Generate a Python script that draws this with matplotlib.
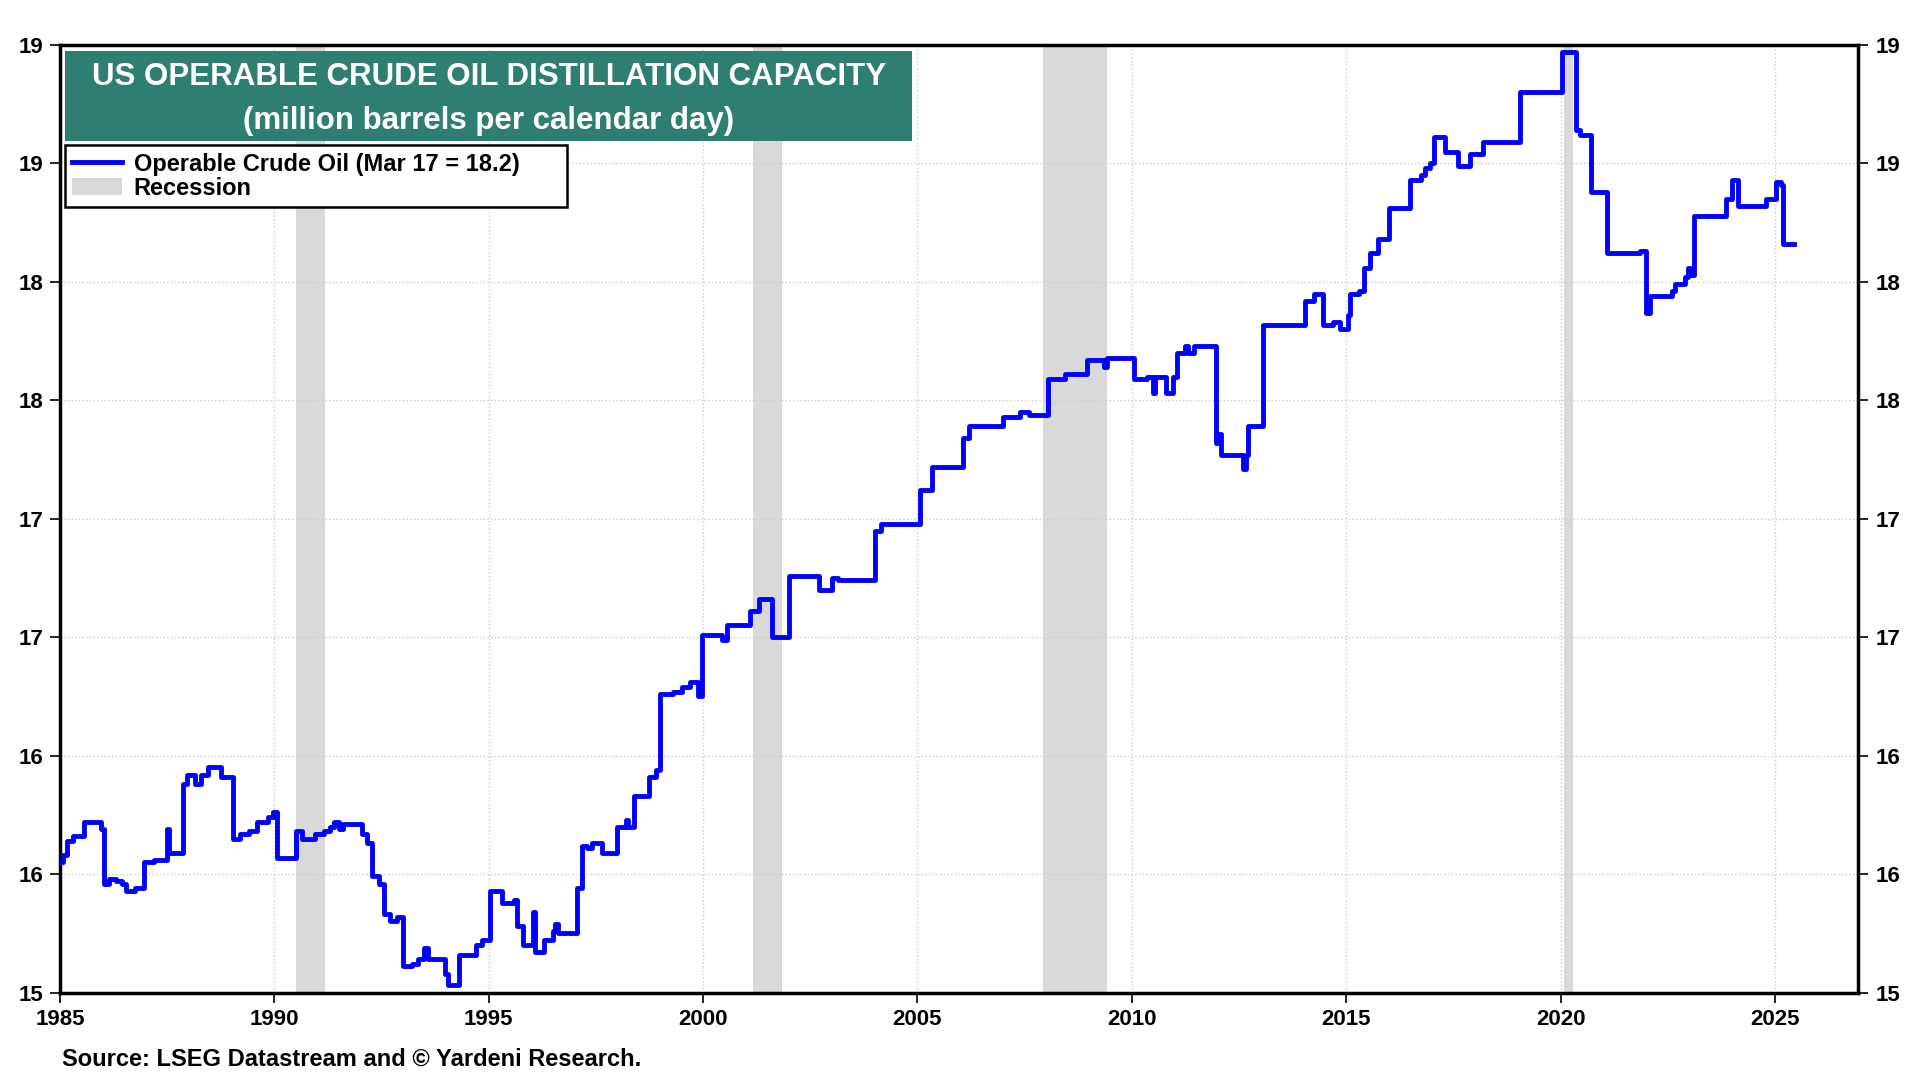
import matplotlib.pyplot as plt
from matplotlib.patches import Rectangle, Patch
from matplotlib.lines import Line2D

plt.rcParams['font.family'] = ['Liberation Sans', 'DejaVu Sans']
plt.rcParams['font.weight'] = 'bold'

# operable crude oil distillation capacity, step series (start of each level)
years = [1985.00, 1985.08, 1985.17, 1985.30, 1985.55, 1985.95, 1986.03, 1986.15, 1986.30, 1986.45,
         1986.55, 1986.75, 1986.95, 1987.20, 1987.50, 1987.55, 1987.88, 1987.97, 1988.15, 1988.30,
         1988.45, 1988.75, 1989.03, 1989.20, 1989.40, 1989.60, 1989.85, 1989.97, 1990.05, 1990.50,
         1990.65, 1990.95, 1991.15, 1991.30, 1991.40, 1991.50, 1991.60, 1992.05, 1992.15, 1992.27,
         1992.45, 1992.55, 1992.70, 1992.85, 1993.00, 1993.20, 1993.35, 1993.50, 1993.58, 1993.97,
         1994.05, 1994.30, 1994.70, 1994.85, 1995.02, 1995.30, 1995.60, 1995.65, 1995.80, 1996.03,
         1996.08, 1996.30, 1996.50, 1996.55, 1996.62, 1997.05, 1997.18, 1997.30, 1997.40, 1997.65,
         1998.00, 1998.20, 1998.25, 1998.40, 1998.75, 1998.90, 1999.00, 1999.30, 1999.50, 1999.70,
         1999.88, 1999.97, 2000.45, 2000.55, 2001.10, 2001.30, 2001.60, 2002.00, 2002.70, 2003.00,
         2003.15, 2004.00, 2004.15, 2005.05, 2005.35, 2006.07, 2006.20, 2007.00, 2007.40, 2007.60,
         2008.05, 2008.45, 2008.95, 2009.35, 2009.42, 2010.05, 2010.35, 2010.50, 2010.55, 2010.80,
         2010.97, 2011.05, 2011.25, 2011.30, 2011.45, 2011.97, 2012.02, 2012.07, 2012.60, 2012.66,
         2012.70, 2013.05, 2014.05, 2014.25, 2014.45, 2014.70, 2014.85, 2015.05, 2015.10, 2015.30,
         2015.42, 2015.55, 2015.75, 2016.00, 2016.48, 2016.75, 2016.85, 2016.95, 2017.05, 2017.30,
         2017.62, 2017.90, 2018.20, 2019.05, 2020.03, 2020.37, 2020.45, 2020.72, 2021.08, 2021.85,
         2022.00, 2022.08, 2022.60, 2022.67, 2022.90, 2022.97, 2023.03, 2023.12, 2023.85, 2024.00,
         2024.13, 2024.80, 2025.03, 2025.15, 2025.20, 2025.45]
capacity = [15.55, 15.58, 15.64, 15.66, 15.72, 15.69, 15.46, 15.48, 15.47, 15.46,
            15.43, 15.44, 15.55, 15.56, 15.69, 15.59, 15.88, 15.92, 15.88, 15.92,
            15.95, 15.91, 15.65, 15.67, 15.68, 15.72, 15.74, 15.76, 15.57, 15.68,
            15.65, 15.67, 15.68, 15.70, 15.72, 15.69, 15.71, 15.67, 15.63, 15.49,
            15.46, 15.33, 15.30, 15.32, 15.11, 15.12, 15.14, 15.19, 15.14, 15.08,
            15.03, 15.16, 15.20, 15.22, 15.43, 15.38, 15.39, 15.28, 15.20, 15.34,
            15.17, 15.22, 15.26, 15.29, 15.25, 15.44, 15.62, 15.61, 15.63, 15.59,
            15.70, 15.73, 15.70, 15.83, 15.91, 15.94, 16.26, 16.27, 16.29, 16.31,
            16.25, 16.51, 16.49, 16.55, 16.61, 16.66, 16.50, 16.76, 16.70, 16.75,
            16.74, 16.95, 16.98, 17.12, 17.22, 17.34, 17.39, 17.43, 17.45, 17.44,
            17.59, 17.61, 17.67, 17.64, 17.68, 17.59, 17.60, 17.53, 17.60, 17.53,
            17.60, 17.70, 17.73, 17.70, 17.73, 17.32, 17.36, 17.27, 17.21, 17.27,
            17.39, 17.82, 17.92, 17.95, 17.82, 17.83, 17.80, 17.86, 17.95, 17.96,
            18.06, 18.12, 18.18, 18.31, 18.43, 18.45, 18.48, 18.50, 18.61, 18.55,
            18.49, 18.54, 18.59, 18.80, 18.97, 18.64, 18.62, 18.38, 18.12, 18.13,
            17.87, 17.94, 17.96, 17.99, 18.02, 18.06, 18.03, 18.28, 18.35, 18.43,
            18.32, 18.35, 18.42, 18.41, 18.16, 18.16]

# recessions
rec_start = [1990.50, 2001.17, 2007.92, 2020.08]
rec_end = [1991.17, 2001.83, 2009.42, 2020.30]

yticks = [15, 15.5, 16, 16.5, 17, 17.5, 18, 18.5, 19]
ytick_labels = ['15', '16', '16', '17', '17', '18', '18', '19', '19']
xticks = [1985, 1990, 1995, 2000, 2005, 2010, 2015, 2020, 2025]

fig = plt.figure(figsize=(19.2, 10.8), dpi=100)
ax = fig.add_axes([0.03125, 0.081, 0.9367, 0.8773])

for s, e in zip(rec_start, rec_end):
    ax.axvspan(s, e, color='#D9D9D9', lw=0, zorder=1)

ax.plot(years, capacity, drawstyle='steps-post', color='#0000FF', lw=3.5, zorder=3)

ax.set_xlim(1985, 2026.95)
ax.set_ylim(15, 19)
ax.set_xticks(xticks)
ax.set_xticklabels([str(x) for x in xticks])
ax.set_yticks(yticks)
ax.set_yticklabels(ytick_labels)
ax.tick_params(axis='both', labelsize=16, direction='out', length=7, width=1.2,
               colors='black', pad=5)
ax.tick_params(axis='y', right=True, labelright=True)
for lab in ax.get_xticklabels() + ax.get_yticklabels():
    lab.set_fontweight('bold')
ax.grid(True, color='#CCCCCC', ls=':', lw=1.0, zorder=0)
for sp in ax.spines.values():
    sp.set_linewidth(2.5)

# title box
ax.add_patch(Rectangle((0.0027, 0.899), 0.4713, 0.0945, transform=ax.transAxes,
                       facecolor='#2E7F72', edgecolor='none', zorder=5))
ax.text(0.2383, 0.966, 'US OPERABLE CRUDE OIL DISTILLATION CAPACITY', transform=ax.transAxes,
        ha='center', va='center', color='white', fontsize=22.5, fontweight='bold', zorder=6)
ax.text(0.2383, 0.920, '(million barrels per calendar day)', transform=ax.transAxes,
        ha='center', va='center', color='white', fontsize=22.5, fontweight='bold', zorder=6)

handles = [Line2D([0], [0], color='#0000FF', lw=3.5),
           Patch(facecolor='#D9D9D9', edgecolor='none')]
leg = ax.legend(handles, ['Operable Crude Oil (Mar 17 = 18.2)', 'Recession'],
                loc='upper left', bbox_to_anchor=(0.003, 0.894, 0.279, 0), mode='expand',
                borderaxespad=0, fancybox=False, framealpha=1, edgecolor='black',
                prop={'size': 17, 'weight': 'bold'}, handlelength=2.1,
                labelspacing=0.05, borderpad=0.3, handletextpad=0.5)
leg.get_frame().set_linewidth(1.8)
leg.set_zorder(6)

fig.text(0.0325, 0.019, 'Source: LSEG Datastream and \u00a9 Yardeni Research.',
         ha='left', va='center', fontsize=17, fontweight='bold')

fig.savefig('out.png', dpi=100)
